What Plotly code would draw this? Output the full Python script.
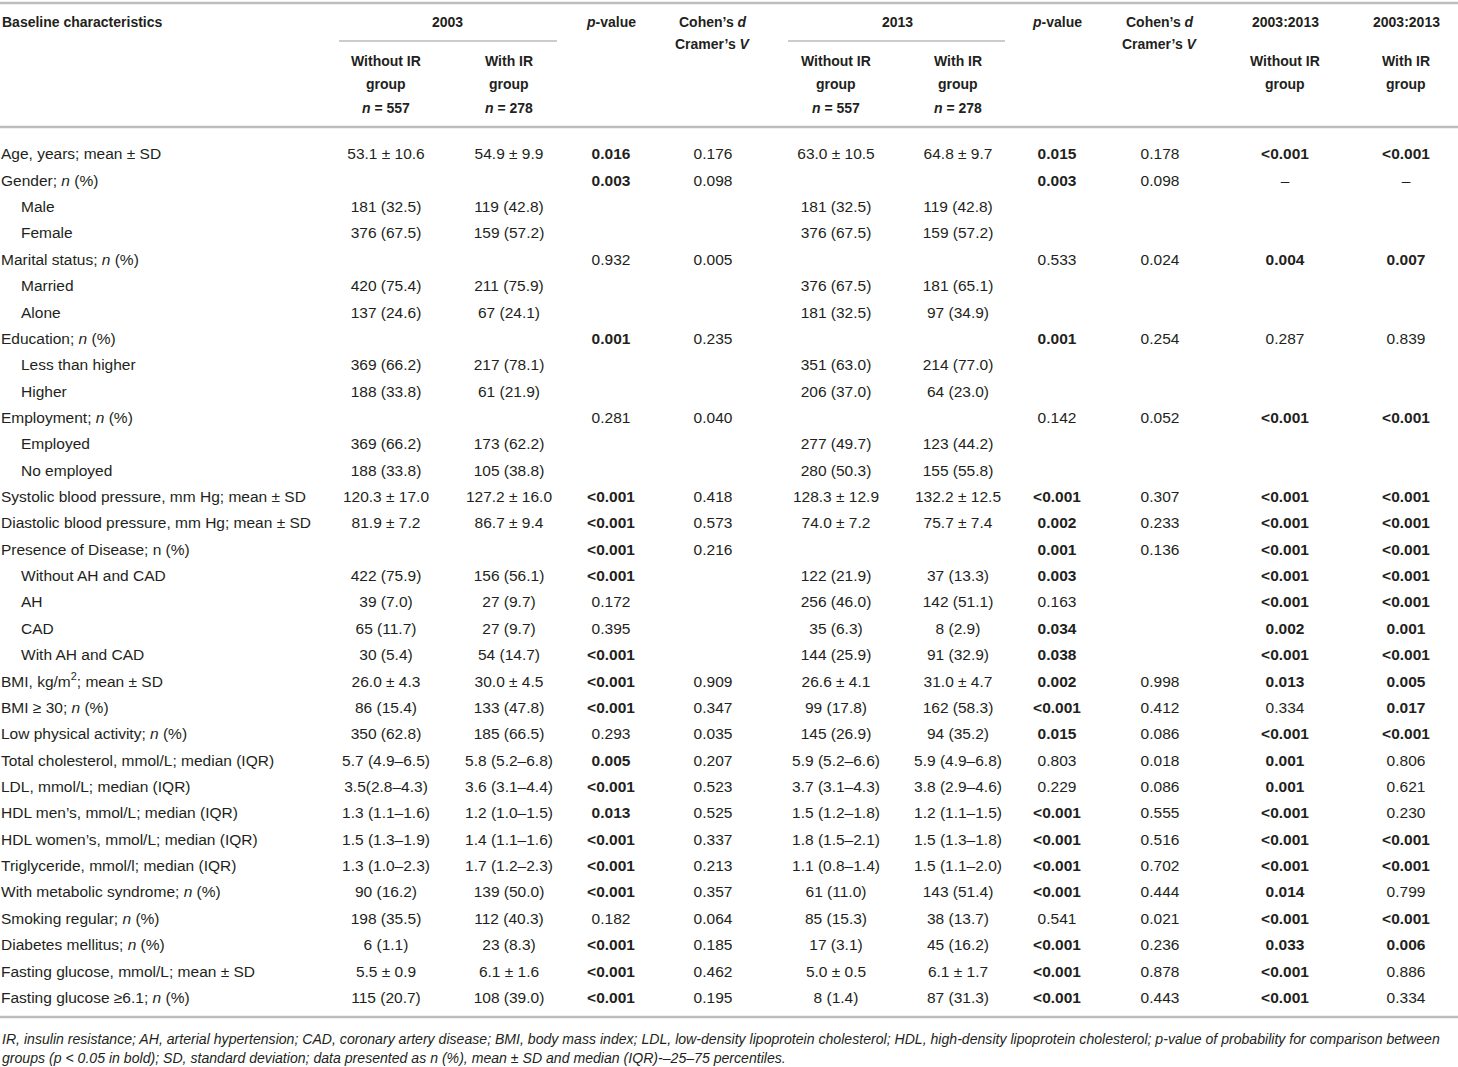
import plotly.graph_objects as go

# row labels (sub-items are indented)
labels = [
    "Age, years; mean ± SD",
    "Gender; <i>n</i> (%)",
    "Male",
    "Female",
    "Marital status; <i>n</i> (%)",
    "Married",
    "Alone",
    "Education; <i>n</i> (%)",
    "Less than higher",
    "Higher",
    "Employment; <i>n</i> (%)",
    "Employed",
    "No employed",
    "Systolic blood pressure, mm Hg; mean ± SD",
    "Diastolic blood pressure, mm Hg; mean ± SD",
    "Presence of Disease; n (%)",
    "Without AH and CAD",
    "AH",
    "CAD",
    "With AH and CAD",
    "BMI, kg/m<sup>2</sup>; mean ± SD",
    "BMI ≥ 30; <i>n</i> (%)",
    "Low physical activity; <i>n</i> (%)",
    "Total cholesterol, mmol/L; median (IQR)",
    "LDL, mmol/L; median (IQR)",
    "HDL men’s, mmol/L; median (IQR)",
    "HDL women’s, mmol/L; median (IQR)",
    "Triglyceride, mmol/l; median (IQR)",
    "With metabolic syndrome; <i>n</i> (%)",
    "Smoking regular; <i>n</i> (%)",
    "Diabetes mellitus; <i>n</i> (%)",
    "Fasting glucose, mmol/L; mean ± SD",
    "Fasting glucose ≥6.1; <i>n</i> (%)",
]
sub_rows = [2, 3, 5, 6, 8, 9, 11, 12, 16, 17, 18, 19]

without_2003 = ["53.1 ± 10.6", "", "181 (32.5)", "376 (67.5)", "", "420 (75.4)", "137 (24.6)", "",
                "369 (66.2)", "188 (33.8)", "", "369 (66.2)", "188 (33.8)", "120.3 ± 17.0", "81.9 ± 7.2", "",
                "422 (75.9)", "39 (7.0)", "65 (11.7)", "30 (5.4)", "26.0 ± 4.3", "86 (15.4)", "350 (62.8)",
                "5.7 (4.9–6.5)", "3.5(2.8–4.3)", "1.3 (1.1–1.6)", "1.5 (1.3–1.9)", "1.3 (1.0–2.3)",
                "90 (16.2)", "198 (35.5)", "6 (1.1)", "5.5 ± 0.9", "115 (20.7)"]
with_2003 = ["54.9 ± 9.9", "", "119 (42.8)", "159 (57.2)", "", "211 (75.9)", "67 (24.1)", "",
             "217 (78.1)", "61 (21.9)", "", "173 (62.2)", "105 (38.8)", "127.2 ± 16.0", "86.7 ± 9.4", "",
             "156 (56.1)", "27 (9.7)", "27 (9.7)", "54 (14.7)", "30.0 ± 4.5", "133 (47.8)", "185 (66.5)",
             "5.8 (5.2–6.8)", "3.6 (3.1–4.4)", "1.2 (1.0–1.5)", "1.4 (1.1–1.6)", "1.7 (1.2–2.3)",
             "139 (50.0)", "112 (40.3)", "23 (8.3)", "6.1 ± 1.6", "108 (39.0)"]
p_2003 = ["0.016", "0.003", "", "", "0.932", "", "", "0.001", "", "", "0.281", "", "",
          "<0.001", "<0.001", "<0.001", "<0.001", "0.172", "0.395", "<0.001", "<0.001", "<0.001",
          "0.293", "0.005", "<0.001", "0.013", "<0.001", "<0.001", "<0.001", "0.182", "<0.001",
          "<0.001", "<0.001"]
es_2003 = ["0.176", "0.098", "", "", "0.005", "", "", "0.235", "", "", "0.040", "", "",
           "0.418", "0.573", "0.216", "", "", "", "", "0.909", "0.347", "0.035", "0.207", "0.523",
           "0.525", "0.337", "0.213", "0.357", "0.064", "0.185", "0.462", "0.195"]

without_2013 = ["63.0 ± 10.5", "", "181 (32.5)", "376 (67.5)", "", "376 (67.5)", "181 (32.5)", "",
                "351 (63.0)", "206 (37.0)", "", "277 (49.7)", "280 (50.3)", "128.3 ± 12.9", "74.0 ± 7.2", "",
                "122 (21.9)", "256 (46.0)", "35 (6.3)", "144 (25.9)", "26.6 ± 4.1", "99 (17.8)", "145 (26.9)",
                "5.9 (5.2–6.6)", "3.7 (3.1–4.3)", "1.5 (1.2–1.8)", "1.8 (1.5–2.1)", "1.1 (0.8–1.4)",
                "61 (11.0)", "85 (15.3)", "17 (3.1)", "5.0 ± 0.5", "8 (1.4)"]
with_2013 = ["64.8 ± 9.7", "", "119 (42.8)", "159 (57.2)", "", "181 (65.1)", "97 (34.9)", "",
             "214 (77.0)", "64 (23.0)", "", "123 (44.2)", "155 (55.8)", "132.2 ± 12.5", "75.7 ± 7.4", "",
             "37 (13.3)", "142 (51.1)", "8 (2.9)", "91 (32.9)", "31.0 ± 4.7", "162 (58.3)", "94 (35.2)",
             "5.9 (4.9–6.8)", "3.8 (2.9–4.6)", "1.2 (1.1–1.5)", "1.5 (1.3–1.8)", "1.5 (1.1–2.0)",
             "143 (51.4)", "38 (13.7)", "45 (16.2)", "6.1 ± 1.7", "87 (31.3)"]
p_2013 = ["0.015", "0.003", "", "", "0.533", "", "", "0.001", "", "", "0.142", "", "",
          "<0.001", "0.002", "0.001", "0.003", "0.163", "0.034", "0.038", "0.002", "<0.001",
          "0.015", "0.803", "0.229", "<0.001", "<0.001", "<0.001", "<0.001", "0.541", "<0.001",
          "<0.001", "<0.001"]
es_2013 = ["0.178", "0.098", "", "", "0.024", "", "", "0.254", "", "", "0.052", "", "",
           "0.307", "0.233", "0.136", "", "", "", "", "0.998", "0.412", "0.086", "0.018", "0.086",
           "0.555", "0.516", "0.702", "0.444", "0.021", "0.236", "0.878", "0.443"]

p_change_without = ["<0.001", "–", "", "", "0.004", "", "", "0.287", "", "", "<0.001", "", "",
                    "<0.001", "<0.001", "<0.001", "<0.001", "<0.001", "0.002", "<0.001", "0.013", "0.334",
                    "<0.001", "0.001", "0.001", "<0.001", "<0.001", "<0.001", "0.014", "<0.001", "0.033",
                    "<0.001", "<0.001"]
p_change_with = ["<0.001", "–", "", "", "0.007", "", "", "0.839", "", "", "<0.001", "", "",
                 "<0.001", "<0.001", "<0.001", "<0.001", "<0.001", "0.001", "<0.001", "0.005", "0.017",
                 "<0.001", "0.806", "0.621", "0.230", "<0.001", "<0.001", "0.799", "<0.001", "0.006",
                 "0.886", "0.334"]

years = ["2003", "2013"]
group_names = ["Without IR", "With IR"]
group_sizes = [557, 278]

footnote = [
    "IR, insulin resistance; AH, arterial hypertension; CAD, coronary artery disease; BMI, body mass index; "
    "LDL, low-density lipoprotein cholesterol; HDL, high-density lipoprotein cholesterol; p-value of probability "
    "for comparison between",
    "groups (p < 0.05 in bold); SD, standard deviation; data presented as n (%), mean ± SD and median (IQR)-–25–75 percentiles.",
]

TXT = '#231f20'
RULE = '#bdbdbd'
FONT = 'Liberation Sans, Arial, sans-serif'
W, H = 1458, 1067
ROW0, ROWH = 155.5, 26.36
BODY = 15.5
HEAD = 14


def pbold(v):
    # p < 0.05 shown in bold
    if v.startswith('<') or (v not in ('', '–') and float(v) < 0.05):
        return f"<b>{v}</b>"
    return v


rows_y = [ROW0 + i * ROWH for i in range(len(labels))]
col_x = {'w03': 386, 'i03': 509, 'p03': 611, 'e03': 713,
         'w13': 836, 'i13': 958, 'p13': 1057, 'e13': 1160,
         'cw': 1285, 'ci': 1406}

fig = go.Figure()

# row labels
lab_x = [21 if i in sub_rows else 1 for i in range(len(labels))]
fig.add_trace(go.Scatter(x=lab_x, y=rows_y, text=labels, mode='text', textposition='middle right',
                         textfont=dict(size=BODY, color=TXT, family=FONT), hoverinfo='skip'))

columns = [
    ('w03', without_2003, False), ('i03', with_2003, False), ('p03', p_2003, True), ('e03', es_2003, False),
    ('w13', without_2013, False), ('i13', with_2013, False), ('p13', p_2013, True), ('e13', es_2013, False),
    ('cw', p_change_without, True), ('ci', p_change_with, True),
]
for key, vals, is_p in columns:
    txt = [pbold(v) if is_p else v for v in vals]
    fig.add_trace(go.Scatter(x=[col_x[key]] * len(vals), y=rows_y, text=txt, mode='text',
                             textposition='middle center',
                             textfont=dict(size=BODY, color=TXT, family=FONT), hoverinfo='skip'))

# header
ann = []


def head(x, y, t, anchor='center'):
    ann.append(dict(x=x, y=y, xref='x', yref='y', text=t, showarrow=False, xanchor=anchor,
                    yanchor='middle', font=dict(size=HEAD, color=TXT, family=FONT)))


head(0, 22, "<b>Baseline characteristics</b>", 'left')
for yr, (cw, ci, cp, ce) in zip(years, [('w03', 'i03', 'p03', 'e03'), ('w13', 'i13', 'p13', 'e13')]):
    head((col_x[cw] + col_x[ci]) / 2, 22, f"<b>{yr}</b>")
    head(col_x[cp], 22, "<b><i>p</i>-value</b>")
    head(col_x[ce], 22, "<b>Cohen’s <i>d</i></b>")
    head(col_x[ce], 44, "<b>Cramer’s <i>V</i></b>")
    for c, g, n in zip([cw, ci], group_names, group_sizes):
        head(col_x[c], 61, f"<b>{g}</b>")
        head(col_x[c], 84, "<b>group</b>")
        head(col_x[c], 108, f"<b><i>n</i> = {n}</b>")
for c, g in zip(['cw', 'ci'], group_names):
    head(col_x[c], 22, f"<b>{years[0]}:{years[1]}</b>")
    head(col_x[c], 61, f"<b>{g}</b>")
    head(col_x[c], 84, "<b>group</b>")

for i, line in enumerate(footnote):
    ann.append(dict(x=0, y=1039 + i * 19, xref='x', yref='y', text=f"<i>{line}</i>", showarrow=False,
                    xanchor='left', yanchor='middle', font=dict(size=14.1, color=TXT, family=FONT)))

# rules
shapes = []
for y in [3, 127, 1017]:
    shapes.append(dict(type='line', xref='x', yref='y', x0=0, x1=W, y0=y, y1=y,
                       line=dict(color=RULE, width=2.5)))
for x0, x1 in [(339, 557), (788, 1005)]:
    shapes.append(dict(type='line', xref='x', yref='y', x0=x0, x1=x1, y0=41, y1=41,
                       line=dict(color='#cccccc', width=2)))

fig.update_layout(
    width=W, height=H,
    margin=dict(l=0, r=0, t=0, b=0),
    paper_bgcolor='white', plot_bgcolor='white',
    showlegend=False,
    annotations=ann, shapes=shapes,
)
fig.update_xaxes(range=[0, W], visible=False, showgrid=False, zeroline=False, fixedrange=True)
fig.update_yaxes(range=[H, 0], visible=False, showgrid=False, zeroline=False, fixedrange=True)

fig.write_html("out.html", config={'displayModeBar': False},
               post_script="document.body.style.margin='0';")
